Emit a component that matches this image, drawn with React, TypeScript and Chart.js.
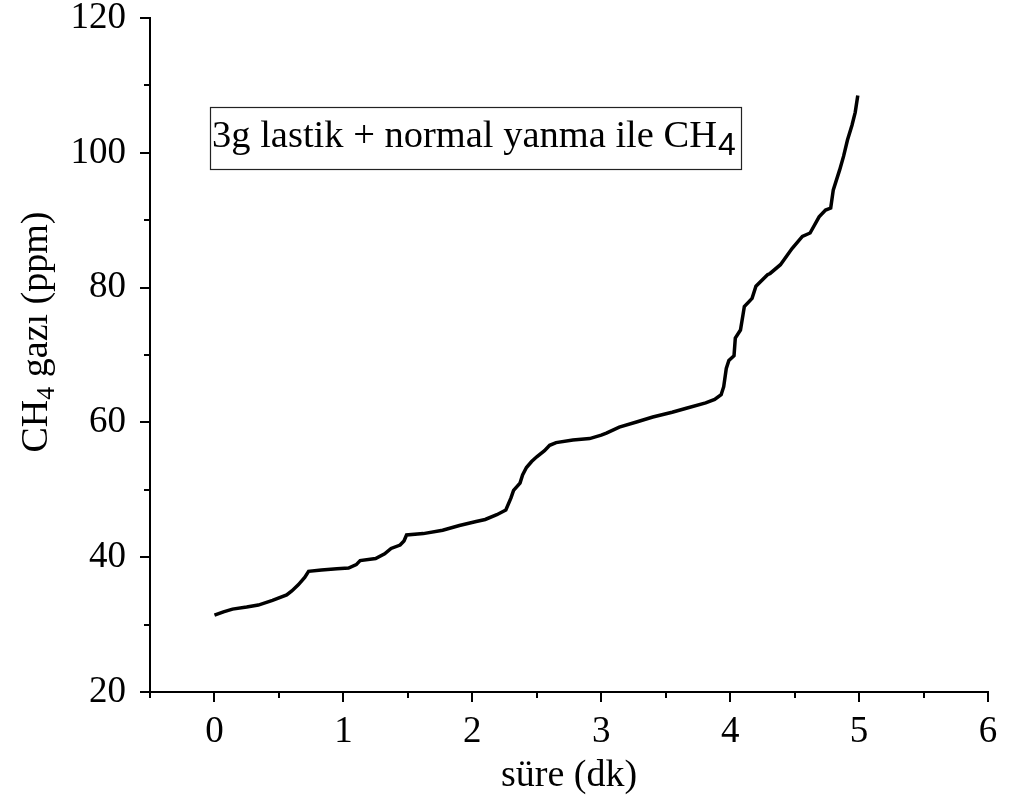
import React, { useEffect, useRef } from "react";
import { Chart, registerables } from "chart.js";

Chart.register(...registerables);

const timeMin = [
  0.0, 0.07, 0.14, 0.25, 0.34, 0.45, 0.56, 0.6, 0.65, 0.7, 0.73, 0.83, 0.95, 1.04, 1.1, 1.13, 1.25, 1.32, 1.37, 1.44,
  1.47, 1.49, 1.62, 1.77, 1.9, 2.03, 2.1, 2.19, 2.26, 2.3, 2.32, 2.37, 2.39, 2.42, 2.46, 2.5, 2.56, 2.6, 2.65, 2.78,
  2.91, 3.0, 3.04, 3.14, 3.28, 3.4, 3.55, 3.66, 3.81, 3.88, 3.93, 3.95, 3.97, 3.99, 4.03, 4.04, 4.08, 4.1, 4.11, 4.17,
  4.2, 4.29, 4.31, 4.39, 4.48, 4.56, 4.62, 4.69, 4.74, 4.78, 4.8, 4.85, 4.88, 4.91, 4.945, 4.97, 4.99,
];
const ch4Ppm = [
  31.4, 31.9, 32.3, 32.6, 32.9, 33.6, 34.4, 35.0, 35.9, 37.0, 37.9, 38.1, 38.3, 38.4, 38.9, 39.5, 39.8, 40.5, 41.3, 41.8,
  42.4, 43.3, 43.5, 44.0, 44.7, 45.3, 45.6, 46.3, 47.0, 48.8, 49.9, 51.0, 52.2, 53.3, 54.2, 54.9, 55.8, 56.6, 57.0, 57.4,
  57.6, 58.1, 58.4, 59.3, 60.1, 60.8, 61.5, 62.1, 62.9, 63.4, 64.1, 65.3, 68.0, 69.2, 69.9, 72.5, 73.7, 76.0, 77.2, 78.4,
  80.2, 81.9, 82.1, 83.4, 85.8, 87.6, 88.1, 90.5, 91.5, 91.8, 94.5, 97.5, 99.5, 101.9, 104.1, 106.0, 108.5,
];

const xMajorTicks = [0, 1, 2, 3, 4, 5, 6];
const xMinorTicks = [-0.5, 0.5, 1.5, 2.5, 3.5, 4.5, 5.5];
const yMajorTicks = [20, 40, 60, 80, 100, 120];
const yMinorTicks = [30, 50, 70, 90, 110];

const xTitle = "süre (dk)";
const yTitleMain = "CH";
const yTitleSub = "4";
const yTitleRest = " gazı (ppm)";
const noteMain = "3g lastik + normal yanma ile CH";
const noteSub = "4";

const SERIF = "'Liberation Serif', 'Times New Roman', serif";
const SANS = "'Liberation Sans', Arial, sans-serif";

const decorPlugin = {
  id: "decor",
  afterDraw(chart: any) {
    const ctx = chart.ctx;
    const xs = chart.scales.x;
    const ys = chart.scales.y;
    const area = chart.chartArea;
    ctx.save();
    ctx.strokeStyle = "#000";
    ctx.lineWidth = 2;
    ctx.beginPath();
    for (const v of xMajorTicks) {
      const px = Math.round(xs.getPixelForValue(v));
      ctx.moveTo(px, area.bottom);
      ctx.lineTo(px, area.bottom + 10);
    }
    for (const v of xMinorTicks) {
      const px = Math.round(xs.getPixelForValue(v));
      ctx.moveTo(px, area.bottom);
      ctx.lineTo(px, area.bottom + 6);
    }
    for (const v of yMajorTicks) {
      const py = Math.round(ys.getPixelForValue(v));
      ctx.moveTo(area.left, py);
      ctx.lineTo(area.left - 10, py);
    }
    for (const v of yMinorTicks) {
      const py = Math.round(ys.getPixelForValue(v));
      ctx.moveTo(area.left, py);
      ctx.lineTo(area.left - 6, py);
    }
    ctx.stroke();

    // x title
    ctx.fillStyle = "#000";
    ctx.font = `38px ${SERIF}`;
    ctx.textAlign = "center";
    ctx.textBaseline = "alphabetic";
    ctx.fillText(xTitle, (area.left + area.right) / 2, 786);

    // y title (rotated)
    ctx.save();
    ctx.translate(47, 332);
    ctx.rotate(-Math.PI / 2);
    ctx.font = `38px ${SERIF}`;
    const wMain = ctx.measureText(yTitleMain).width;
    ctx.font = `26px ${SERIF}`;
    const wSub = ctx.measureText(yTitleSub).width;
    ctx.font = `38px ${SERIF}`;
    const wRest = ctx.measureText(yTitleRest).width;
    const total = wMain + wSub + wRest;
    let cx = -total / 2;
    ctx.textAlign = "left";
    ctx.fillText(yTitleMain, cx, 0);
    cx += wMain;
    ctx.font = `26px ${SERIF}`;
    ctx.fillText(yTitleSub, cx, 7);
    cx += wSub;
    ctx.font = `38px ${SERIF}`;
    ctx.fillText(yTitleRest, cx, 0);
    ctx.restore();

    // annotation box
    ctx.lineWidth = 1.2;
    ctx.strokeStyle = "#222";
    ctx.strokeRect(210.5, 107.5, 531, 62);
    ctx.font = `38.5px ${SERIF}`;
    ctx.textAlign = "left";
    ctx.fillText(noteMain, 212, 147);
    const wn = ctx.measureText(noteMain).width;
    ctx.font = `32px ${SANS}`;
    ctx.fillText(noteSub, 212 + wn + 1, 155);
    ctx.restore();
  },
};

export default function App() {
  const ref = useRef<HTMLCanvasElement | null>(null);
  useEffect(() => {
    if (!ref.current) return;
    const points = timeMin.map((t, i) => ({ x: t, y: ch4Ppm[i] }));
    const chart = new Chart(ref.current, {
      type: "line",
      data: {
        datasets: [
          {
            data: points,
            borderColor: "#000",
            borderWidth: 3.5,
            pointRadius: 0,
            tension: 0,
            fill: false,
          },
        ],
      },
      options: {
        animation: false,
        responsive: false,
        layout: { padding: { left: 0, top: 18, right: 21, bottom: 0 } },
        plugins: { legend: { display: false }, tooltip: { enabled: false } },
        scales: {
          x: {
            type: "linear",
            min: -0.5,
            max: 6,
            afterBuildTicks: (s: any) => {
              s.ticks = xMajorTicks.map((v) => ({ value: v }));
            },
            afterFit: (s: any) => {
              s.height = 106;
              s.paddingLeft = 0;
              s.paddingRight = 0;
            },
            grid: { drawOnChartArea: false, drawTicks: true, tickLength: 10, tickColor: "rgba(0,0,0,0)" },
            border: { display: true, color: "#000", width: 2 },
            ticks: {
              color: "#000",
              font: { family: SERIF, size: 37 },
              padding: 8,
              maxRotation: 0,
              autoSkip: false,
              callback: (v: any) => String(v),
            },
          },
          y: {
            type: "linear",
            min: 20,
            max: 120,
            afterBuildTicks: (s: any) => {
              s.ticks = yMajorTicks.map((v) => ({ value: v }));
            },
            afterFit: (s: any) => {
              s.width = 150;
              s.paddingTop = 0;
              s.paddingBottom = 0;
            },
            grid: { drawOnChartArea: false, drawTicks: true, tickLength: 10, tickColor: "rgba(0,0,0,0)" },
            border: { display: true, color: "#000", width: 2 },
            ticks: {
              color: "#000",
              font: { family: SERIF, size: 37 },
              padding: 14,
              autoSkip: false,
              callback: (v: any) => String(v),
            },
          },
        },
      },
      plugins: [decorPlugin],
    });
    return () => chart.destroy();
  }, []);
  return (
    <div style={{ position: "absolute", left: 0, top: 0, width: 1009, height: 798, background: "#fff" }}>
      <canvas ref={ref} width={1009} height={798} style={{ display: "block" }} />
    </div>
  );
}
